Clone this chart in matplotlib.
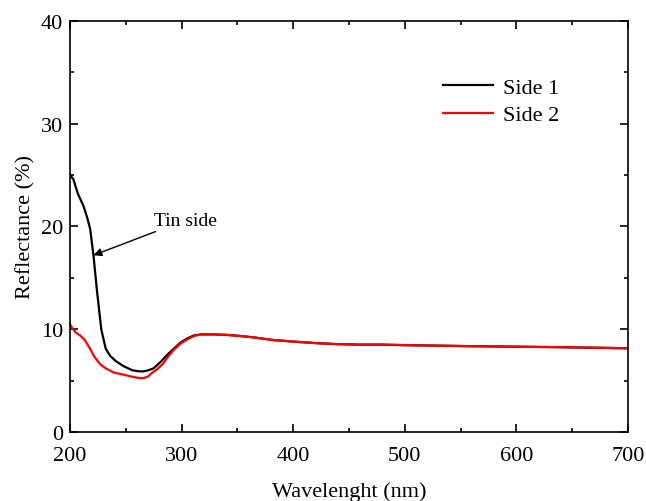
import matplotlib.pyplot as plt
from matplotlib.ticker import MultipleLocator

# Reflectance spectra
wl_side1 = [200, 203, 207, 212, 215, 218, 221, 224, 228, 232, 236, 241, 248, 256, 262, 266,
            270, 275, 281, 287, 293, 299, 305, 311, 318, 328, 340, 352, 365, 382, 400, 420,
            440, 460, 480, 500, 530, 560, 600, 640, 670, 700]
refl_side1 = [25.0, 24.6, 23.2, 22.0, 21.0, 19.8, 17.2, 13.9, 10.0, 8.1, 7.4, 6.9, 6.4, 6.0, 5.9, 5.9,
              6.0, 6.2, 6.8, 7.5, 8.1, 8.7, 9.1, 9.4, 9.5, 9.5, 9.45, 9.35, 9.2, 8.95, 8.8, 8.65,
              8.55, 8.5, 8.5, 8.45, 8.4, 8.35, 8.3, 8.25, 8.2, 8.15]

wl_side2 = [200, 202, 205, 209, 213, 218, 222, 227, 232, 239, 245, 251, 257, 262, 266, 270,
            274, 278, 283, 287, 293, 299, 305, 311, 318, 328, 340, 352, 365, 382, 400, 420,
            440, 460, 480, 500, 530, 560, 600, 640, 670, 700]
refl_side2 = [10.5, 10.1, 9.7, 9.4, 9.0, 8.1, 7.3, 6.6, 6.2, 5.8, 5.65, 5.5, 5.35, 5.25, 5.25, 5.4,
              5.8, 6.1, 6.6, 7.2, 8.0, 8.6, 9.0, 9.35, 9.5, 9.5, 9.45, 9.35, 9.2, 8.95, 8.8, 8.65,
              8.55, 8.5, 8.5, 8.45, 8.4, 8.35, 8.3, 8.25, 8.2, 8.15]

plt.rcParams['font.family'] = ['Liberation Serif', 'DejaVu Serif']

fig = plt.figure(figsize=(6.46, 5.02), dpi=100)
ax = fig.add_axes([0.1084, 0.1375, 0.8636, 0.8187])

ax.plot(wl_side1, refl_side1, color='black', lw=1.6, label='Side 1')
ax.plot(wl_side2, refl_side2, color='#ff0000', lw=1.6, label='Side 2')

ax.set_xlim(200, 700)
ax.set_ylim(0, 40)
ax.xaxis.set_major_locator(MultipleLocator(100))
ax.xaxis.set_minor_locator(MultipleLocator(50))
ax.yaxis.set_major_locator(MultipleLocator(10))
ax.yaxis.set_minor_locator(MultipleLocator(5))
ax.tick_params(which='both', direction='in', top=True, right=True, labelsize=16, width=1.2)
ax.tick_params(which='major', length=6)
ax.tick_params(which='minor', length=3)
ax.tick_params(axis='x', pad=10)
ax.tick_params(axis='y', pad=5)
for s in ax.spines.values():
    s.set_linewidth(1.2)

ax.set_xlabel('Wavelenght (nm)', fontsize=16, labelpad=12)
ax.set_ylabel('Reflectance (%)', fontsize=16, labelpad=4)

ax.annotate('Tin side', xy=(221, 17.2), xytext=(275, 20.6), fontsize=14, va='center', ha='left',
            arrowprops=dict(arrowstyle='-|>', color='black', lw=1.0, shrinkA=0, shrinkB=0,
                            mutation_scale=12),
            )

ax.legend(loc='upper left', bbox_to_anchor=(0.668, 0.862), frameon=False, fontsize=16,
          handlelength=2.25, handletextpad=0.45, labelspacing=0.3, borderpad=0,
          borderaxespad=0)

fig.savefig('out.png', dpi=100)
